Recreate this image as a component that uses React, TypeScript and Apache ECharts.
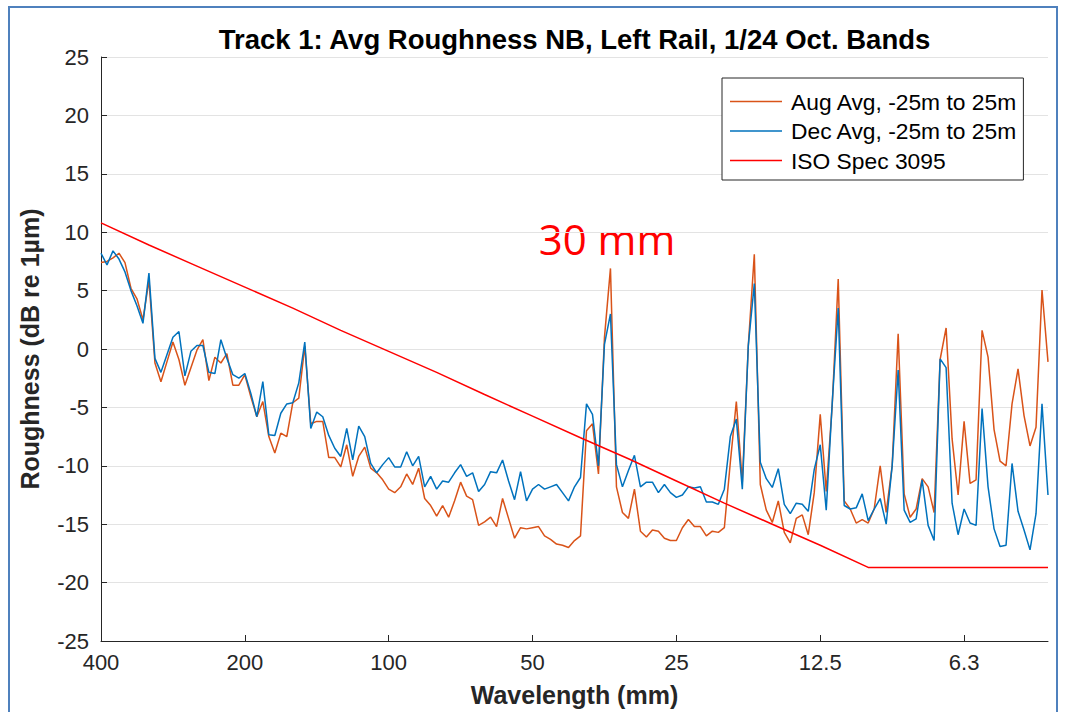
import { useEffect, useRef } from "react";
import * as echarts from "echarts";

// 1/24-octave bands, band 0 = 400 mm wavelength
const bandsPerOctave = 24;
const lastBand = 158;
const tickLabels = ["400", "200", "100", "50", "25", "12.5", "6.3"];

const augAvg = [
  7.4, 7.5, 7.8, 8.2, 7.4, 5.2, 4.3, 2.5, 5.9, -1.2,
  -2.8, -1.1, 0.6, -0.9, -3.1, -1.6, -0.1, 0.8, -2.7, -0.7,
  -1.2, -0.4, -3.1, -3.1, -2.2, -4.1, -5.8, -4.5, -7.5, -8.9,
  -7.2, -7.5, -4.6, -4.2, 0.25, -6.4, -6.2, -6.2, -9.3, -9.3,
  -10.1, -8.2, -10.9, -9.2, -8.4, -10.2, -10.6, -11.2, -12.0, -12.3,
  -11.8, -10.7, -11.6, -10.2, -12.8, -13.4, -14.3, -13.4, -14.4, -13.0,
  -11.4, -12.6, -12.9, -15.1, -14.8, -14.4, -15.2, -12.8, -14.5, -16.2,
  -15.3, -15.4, -15.3, -15.2, -16.0, -16.3, -16.7, -16.8, -17.0, -16.4,
  -16.0, -7.0, -6.4, -10.7, 1.0, 6.9, -11.8, -14.0, -14.5, -12.0,
  -15.6, -16.1, -15.5, -15.6, -16.2, -16.4, -16.4, -15.3, -14.6, -15.2,
  -15.2, -16.0, -15.6, -15.7, -15.3, -9.7, -4.5, -11.4, 0.3, 8.1,
  -11.6, -13.8, -14.85, -13.0, -15.7, -16.6, -14.5, -14.2, -15.9, -12.3,
  -5.6, -12.2, -4.8, 6.0, -13.0, -13.7, -14.9, -14.6, -14.9, -13.7,
  -10.0, -14.0, -10.0, 1.3, -12.4, -14.4, -13.7, -11.1, -11.8, -14.0,
  -0.9, 1.8, -7.7, -12.5, -6.2, -11.5, -11.2, 1.6, -0.7, -6.9,
  -9.6, -10.0, -4.7, -1.7, -5.7, -8.3, -6.7, 5.05, -1.1,
];

const decAvg = [
  8.2, 7.2, 8.4, 7.7, 6.6, 5.0, 3.7, 2.2, 6.5, -0.8,
  -2.0, -0.5, 1.0, 1.5, -2.3, -0.2, 0.3, 0.3, -2.0, -2.1,
  0.8, -0.8, -2.2, -2.5, -2.1, -3.8, -5.8, -2.8, -7.35, -7.4,
  -5.5, -4.7, -4.6, -2.9, 0.6, -6.8, -5.4, -5.8, -7.4, -8.5,
  -9.2, -6.8, -9.5, -6.6, -7.5, -9.8, -10.6, -9.9, -9.3, -10.1,
  -10.1, -8.8, -10.0, -9.2, -11.8, -10.9, -12.0, -11.3, -11.4, -10.6,
  -9.9, -10.9, -10.6, -12.2, -11.6, -10.5, -10.6, -9.5, -11.3, -12.9,
  -10.5, -13.0, -12.0, -11.6, -12.0, -11.8, -11.6, -12.3, -13.0, -11.8,
  -11.0, -4.7, -5.6, -10.0, 0.4, 3.0, -9.9, -11.8, -10.4, -9.1,
  -11.8, -11.4, -11.4, -12.3, -11.6, -12.3, -12.7, -12.5, -11.8, -11.9,
  -11.8, -13.1, -13.1, -13.3, -12.0, -7.5, -6.0, -12.0, 0.3, 5.6,
  -9.7, -11.1, -11.85, -10.25, -13.3, -14.1, -13.2, -13.3, -13.9, -10.3,
  -8.2, -13.8, -4.6, 3.5, -13.4, -13.7, -13.6, -12.4, -14.7, -13.7,
  -12.8, -15.0, -10.0, -1.8, -13.8, -14.85, -14.55, -11.2, -15.1, -16.4,
  -0.85, -1.6, -13.2, -15.9, -13.7, -14.9, -15.1, -5.1, -11.8, -15.4,
  -16.9, -16.8, -9.8, -13.9, -15.5, -17.2, -14.1, -4.7, -12.5,
];

const isoBands = [0, 8, 16, 24, 32, 40, 48, 56, 64, 72, 80, 88, 96, 104, 112, 120, 128, 158];
const isoSpec = [10.8, 8.9, 7.1, 5.3, 3.5, 1.6, -0.2, -2.0, -3.9, -5.75, -7.6, -9.4, -11.3, -13.2, -15.0, -16.8, -18.7, -18.7];

const FONT = "'Liberation Sans', Arial, sans-serif";
const AX = "#262626";

export default function App() {
  const ref = useRef<HTMLDivElement>(null);
  useEffect(() => {
    const chart = echarts.init(ref.current!, null, { renderer: "svg" });
    const octaveTicks = tickLabels.map((_, k) => k * bandsPerOctave);
    chart.setOption({
      animation: false,
      backgroundColor: "#fff",
      grid: { left: 101, right: 20, top: 57, bottom: 69, containLabel: false },
      xAxis: {
        type: "value",
        min: 0,
        max: lastBand,
        interval: bandsPerOctave,
        name: "Wavelength (mm)",
        nameLocation: "middle",
        nameGap: 41,
        nameTextStyle: { fontFamily: FONT, fontSize: 25, fontWeight: "bold", color: AX },
        axisLine: { show: true, onZero: false, lineStyle: { color: AX, width: 1 } },
        axisTick: { show: true, inside: true, length: 6, customValues: octaveTicks, lineStyle: { color: AX } },
        axisLabel: {
          customValues: octaveTicks,
          fontFamily: FONT,
          fontSize: 22,
          color: AX,
          margin: 10,
          formatter: (v: number) => tickLabels[Math.round(v / bandsPerOctave)] ?? "",
        },
        splitLine: { show: false },
      },
      yAxis: {
        type: "value",
        min: -25,
        max: 25,
        interval: 5,
        name: "Roughness (dB re 1µm)",
        nameLocation: "middle",
        nameGap: 59,
        nameTextStyle: { fontFamily: FONT, fontSize: 25, fontWeight: "bold", color: AX },
        axisLine: { show: true, onZero: false, lineStyle: { color: AX, width: 1 } },
        axisTick: { show: true, inside: true, length: 6, lineStyle: { color: AX } },
        axisLabel: { fontFamily: FONT, fontSize: 22, color: AX, margin: 12 },
        splitLine: { show: true, lineStyle: { color: "#e3e3e3", width: 1 } },
      },
      legend: {
        orient: "vertical",
        left: 722,
        top: 78,
        icon: "rect",
        itemWidth: 52,
        itemHeight: 1.5,
        itemGap: 6.5,
        padding: [12, 6, 8, 8],
        backgroundColor: "#fff",
        borderColor: AX,
        borderWidth: 1,
        borderRadius: 0,
        textStyle: { fontFamily: FONT, fontSize: 22.8, color: "#000", lineHeight: 22, padding: [0, 0, 0, 4] },
        data: ["Aug Avg, -25m to 25m", "Dec Avg, -25m to 25m", "ISO Spec 3095"],
      },
      graphic: [
        {
          type: "rect",
          shape: { x: 9, y: 7, width: 1048, height: 760 },
          style: { fill: "none", stroke: "#4f81bd", lineWidth: 2 },
          silent: true,
        },
        {
          type: "text",
          x: 574.5,
          y: 39,
          style: {
            text: "Track 1: Avg Roughness NB, Left Rail, 1/24 Oct. Bands",
            font: `bold 27.5px ${FONT}`,
            fill: "#000",
            align: "center",
            verticalAlign: "middle",
          },
        },
        {
          type: "text",
          x: 607,
          y: 238,
          style: {
            text: "30 mm",
            font: "42px 'Open Sans', sans-serif",
            fill: "#ff0000",
            align: "center",
            verticalAlign: "middle",
          },
        },
      ],
      series: [
        {
          name: "Aug Avg, -25m to 25m",
          type: "line",
          data: augAvg.map((v, i) => [i, v]),
          showSymbol: false,
          lineStyle: { color: "#D95319", width: 1.5 },
          itemStyle: { color: "#D95319" },
        },
        {
          name: "Dec Avg, -25m to 25m",
          type: "line",
          data: decAvg.map((v, i) => [i, v]),
          showSymbol: false,
          lineStyle: { color: "#0072BD", width: 1.5 },
          itemStyle: { color: "#0072BD" },
        },
        {
          name: "ISO Spec 3095",
          type: "line",
          data: isoBands.map((b, k) => [b, isoSpec[k]]),
          showSymbol: false,
          lineStyle: { color: "#FF0000", width: 1.5 },
          itemStyle: { color: "#FF0000" },
        },
      ],
    });
    return () => chart.dispose();
  }, []);
  return (
    <div
      ref={ref}
      style={{ position: "fixed", left: 0, top: 0, width: 1068, height: 712, background: "#fff" }}
    />
  );
}
